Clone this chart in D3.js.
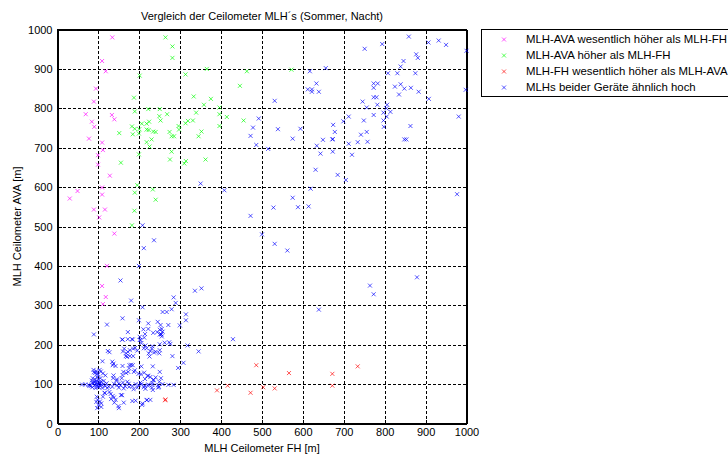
<!DOCTYPE html>
<html>
<head>
<meta charset="utf-8">
<script src="https://cdn.jsdelivr.net/npm/d3@7"></script>
<style>
  html, body { margin: 0; padding: 0; background: #fff; }
  svg { display: block; font-family: "Liberation Sans", Arial, sans-serif; }
</style>
</head>
<body>
<svg id="chart" width="728" height="457"></svg>
<script>
// ---------------- DATA ----------------
const chartTitle = "Vergleich der Ceilometer MLH´s (Sommer, Nacht)";
const xLabel = "MLH Ceilometer FH [m]";
const yLabel = "MLH Ceilometer AVA [m]";
const tickValues = [0, 100, 200, 300, 400, 500, 600, 700, 800, 900, 1000];
const seriesNames = [
  "MLH-AVA wesentlich höher als MLH-FH",
  "MLH-AVA höher als MLH-FH",
  "MLH-FH wesentlich höher als MLH-AVA",
  "MLHs beider Geräte ähnlich hoch"
];
const seriesColors = ["#ff00ff", "#00ff00", "#ff0000", "#0000ff"];

// [FH, AVA] pairs
const avaMuchHigher = [
  [134,980],[109,920],[118,894],[94,850],[89,817],[69,785],[133,783],[139,772],
  [84,766],[90,753],[77,723],[109,713],[111,694],[99,681],[99,657],[128,629],
  [109,599],[49,590],[109,581],[30,571],[89,543],[116,543],[102,523],[139,482],
  [121,400],[109,349],[118,321],[111,303]
];
const avaHigher = [
  [264,980],[281,957],[281,928],[201,883],[313,886],[365,900],[463,894],[446,857],
  [187,827],[333,830],[375,824],[358,809],[189,792],[222,798],[250,798],[268,785],
  [249,780],[339,789],[396,802],[396,785],[414,778],[455,769],[252,769],[224,766],
  [206,761],[218,761],[182,754],[189,748],[200,747],[218,746],[223,745],[234,741],
  [240,740],[274,740],[296,755],[297,746],[319,768],[313,762],[331,769],[396,755],
  [151,737],[184,734],[199,736],[352,741],[345,729],[279,729],[285,729],[230,721],
  [218,714],[225,703],[199,683],[279,690],[275,670],[314,666],[310,660],[362,670],
  [155,662],[195,605],[233,594],[189,586],[240,568],[188,540],[182,503],[572,898]
];
const fhMuchHigher = [
  [263,59],[264,61],[390,84],[416,96],[472,78],[503,92],[531,89],[672,96],
  [486,148],[566,128],[672,126],[734,145]
];
const similar = [
  [859,982],[907,967],[932,972],[950,961],[1000,946],[794,963],[751,951],[877,937],
  [881,928],[846,920],[839,906],[617,894],[656,902],[808,889],[831,889],[875,889],
  [633,863],[773,863],[783,863],[773,852],[612,848],[622,848],[622,842],[639,842],
  [825,855],[839,861],[848,850],[864,852],[883,842],[835,835],[908,824],[998,847],
  [773,828],[780,828],[531,819],[746,817],[782,809],[806,809],[756,802],[804,800],
  [814,791],[797,789],[773,783],[805,779],[981,779],[712,779],[492,774],[699,767],
  [749,769],[797,769],[478,751],[539,747],[594,748],[674,758],[798,753],[863,755],
  [678,740],[756,740],[742,733],[472,730],[575,723],[649,720],[672,721],[673,722],
  [712,710],[734,714],[758,715],[848,721],[853,721],[486,707],[634,705],[515,697],
  [673,690],[643,685],[720,682],[631,644],[685,631],[705,618],[619,596],[575,573],
  [977,582],[528,548],[588,549],[614,551],[472,527],[500,480],[350,609],[408,592],
  [208,503],[236,465],[531,456],[562,439],[879,371],[764,350],[773,328],[639,289],
  [211,445],[199,400],[154,363],[429,214],
  [336,337],[352,343],[284,320],[289,306],[279,290],[257,283],[267,283],[314,277],
  [314,262],[299,249],[271,250],[180,312],[208,295],[159,267],[199,262],[121,251],
  [89,226],[222,254],[222,240],[210,239],[245,258],[252,250],[250,238],[244,232],
  [255,240],[254,226],[212,218],[201,212],[201,220],[159,213],[172,214],[182,214],
  [250,226],[255,221],[273,206],[318,198],[345,183],[308,154],[295,141],[281,171],
  [250,186],[240,182],[223,178],[231,190],[211,191],[218,191],
  [172,232],[214,227],[234,230],[253,227],[257,233],[158,213],[184,213],[203,212],
  [205,204],[215,198],[232,196],[250,201],[262,205],[276,202],
  [163,190],[160,183],[172,182],[168,178],[177,186],[185,190],[190,192],[195,185],
  [123,184],[127,181],[167,171],[170,169],[177,171],[185,171],
  [227,184],[236,180],[225,170],[249,178],[110,158],
  [134,157],[137,152],[135,148],[142,146],[176,148],[180,149],[184,148],[173,131],
  [187,131],[161,131],[159,123],[168,128],
  [88,136],[92,128],[95,133],[99,124],[103,136],[106,132],[111,127],[117,122],
  [89,130],[97,127],[137,122],[136,115],[145,112],[157,115],
  [198,126],[204,125],[212,129],[214,113],[220,121],[227,118],[234,110],
  [235,111],[249,106],[232,103],[253,115],[246,97],[257,100],
  [60,99],[68,99],[76,98],[81,95],[85,103],[90,106],[94,107],[99,99],
  [103,102],[107,106],[112,99],[117,95],[120,102],[125,94],[85,92],[93,90],
  [101,93],[110,90],[122,90],[78,96],[88,102],[96,98],[104,96],[100,111],
  [92,112],[84,109],[97,118],[105,115],[86,115],[95,103],[102,105],[91,97],
  [98,93],[108,98],[113,108],
  [134,93],[138,101],[146,97],[150,91],[154,97],[162,89],[165,95],[174,101],
  [183,95],[191,100],[195,91],[203,104],[215,88],[221,96],[231,91],[248,93],
  [115,78],[111,68],[96,68],[98,60],[104,56],[107,51],[107,42],[95,55],[100,47],
  [130,75],[138,66],[131,62],[142,60],[139,53],[149,44],
  [158,72],[162,53],[183,57],[191,58],[219,60],[227,60],[207,47],[150,39],[97,39],
  [116,77],[127,80],[135,70],[155,72],[208,51],[218,59],
  [145,109],[150,101],[160,104],[171,106],[175,93],[186,87],[199,97],[205,100],
  [211,92],[213,96],[222,99],[232,98],[271,98],[284,98],[246,91],[233,85],
  [250,131],[233,145],[205,145],[159,146],[175,140],[189,135],[222,121],[240,117]
];
const seriesData = [avaMuchHigher, avaHigher, fhMuchHigher, similar];

// ---------------- LAYOUT ----------------
const svg = d3.select("#chart");
const plotLeft = 57.5, plotRight = 466.5, plotTop = 29.5, plotBottom = 423.5;
const x = d3.scaleLinear().domain([0, 1000]).range([plotLeft, plotRight]);
const y = d3.scaleLinear().domain([0, 1000]).range([plotBottom, plotTop]);
const fmt = d3.format("d");

// grid
const grid = svg.append("g").attr("class", "grid");
grid.append("g")
  .attr("transform", `translate(0,${plotBottom})`)
  .call(d3.axisBottom(x).tickValues(tickValues.slice(1, -1)).tickSize(-(plotBottom - plotTop)).tickFormat(""))
  .call(g => g.select(".domain").remove());
grid.append("g")
  .attr("transform", `translate(${plotLeft},0)`)
  .call(d3.axisLeft(y).tickValues(tickValues.slice(1, -1)).tickSize(-(plotRight - plotLeft)).tickFormat(""))
  .call(g => g.select(".domain").remove());
grid.selectAll("line")
  .attr("stroke", "#000")
  .attr("stroke-width", 1)
  .attr("stroke-dasharray", "3,2")
  .attr("shape-rendering", "crispEdges");

// axes
const fontSize = 11;
const axesG = svg.append("g").attr("class", "axes");
axesG.append("g")
  .attr("transform", `translate(0,${plotBottom})`)
  .call(d3.axisBottom(x).tickValues(tickValues).tickFormat(fmt).tickSizeInner(-4).tickSizeOuter(0).tickPadding(5));
axesG.append("g")
  .attr("transform", `translate(${plotLeft},0)`)
  .call(d3.axisLeft(y).tickValues(tickValues).tickFormat(fmt).tickSizeInner(-4).tickSizeOuter(0).tickPadding(5));
axesG.append("g")
  .attr("transform", `translate(0,${plotTop})`)
  .call(d3.axisTop(x).tickValues(tickValues).tickSizeInner(-4).tickSizeOuter(0).tickFormat(""));
axesG.append("g")
  .attr("transform", `translate(${plotRight},0)`)
  .call(d3.axisRight(y).tickValues(tickValues).tickSizeInner(-4).tickSizeOuter(0).tickFormat(""));
axesG.selectAll(".tick text")
  .attr("font-size", fontSize)
  .attr("font-family", "Liberation Sans, Arial, sans-serif")
  .attr("fill", "#000");
axesG.selectAll(".domain").attr("stroke", "#000").attr("shape-rendering", "crispEdges");
axesG.selectAll(".tick line").attr("stroke", "#000").attr("shape-rendering", "crispEdges");

// box
svg.append("rect")
  .attr("x", plotLeft).attr("y", plotTop)
  .attr("width", plotRight - plotLeft).attr("height", plotBottom - plotTop)
  .attr("fill", "none").attr("stroke", "#000")
  .attr("shape-rendering", "crispEdges");

// markers
const xMark = "M-2,-2L2,2M-2,2L2,-2";
seriesData.forEach((pts, i) => {
  svg.append("g")
    .selectAll("path")
    .data(pts)
    .join("path")
    .attr("d", xMark)
    .attr("transform", d => `translate(${x(d[0])},${y(d[1])})`)
    .attr("fill", "none")
    .attr("stroke", seriesColors[i])
    .attr("stroke-opacity", 0.75)
    .attr("stroke-width", 0.9);
});

// titles
svg.append("text")
  .attr("x", (plotLeft + plotRight) / 2).attr("y", 16)
  .attr("text-anchor", "middle").attr("dy", "0.35em")
  .attr("font-size", fontSize).text(chartTitle);
svg.append("text")
  .attr("x", (plotLeft + plotRight) / 2).attr("y", 448)
  .attr("text-anchor", "middle").attr("dy", "0.35em")
  .attr("font-size", fontSize).text(xLabel);
svg.append("text")
  .attr("transform", `translate(17,${(plotTop + plotBottom) / 2}) rotate(-90)`)
  .attr("text-anchor", "middle").attr("dy", "0.35em")
  .attr("font-size", fontSize).text(yLabel);

// legend
const legend = svg.append("g");
legend.append("rect")
  .attr("x", 481.5).attr("y", 29.5)
  .attr("width", 270).attr("height", 67)
  .attr("fill", "#fff").attr("stroke", "#000")
  .attr("shape-rendering", "crispEdges");
seriesNames.forEach((name, i) => {
  const ly = 39.5 + i * 16;
  legend.append("path")
    .attr("d", xMark)
    .attr("transform", `translate(504,${ly})`)
    .attr("fill", "none").attr("stroke", seriesColors[i])
    .attr("stroke-opacity", 0.75).attr("stroke-width", 0.9);
  legend.append("text")
    .attr("x", 526).attr("y", ly).attr("dy", "0.35em")
    .attr("font-size", 11.4).text(name);
});
</script>
</body>
</html>
